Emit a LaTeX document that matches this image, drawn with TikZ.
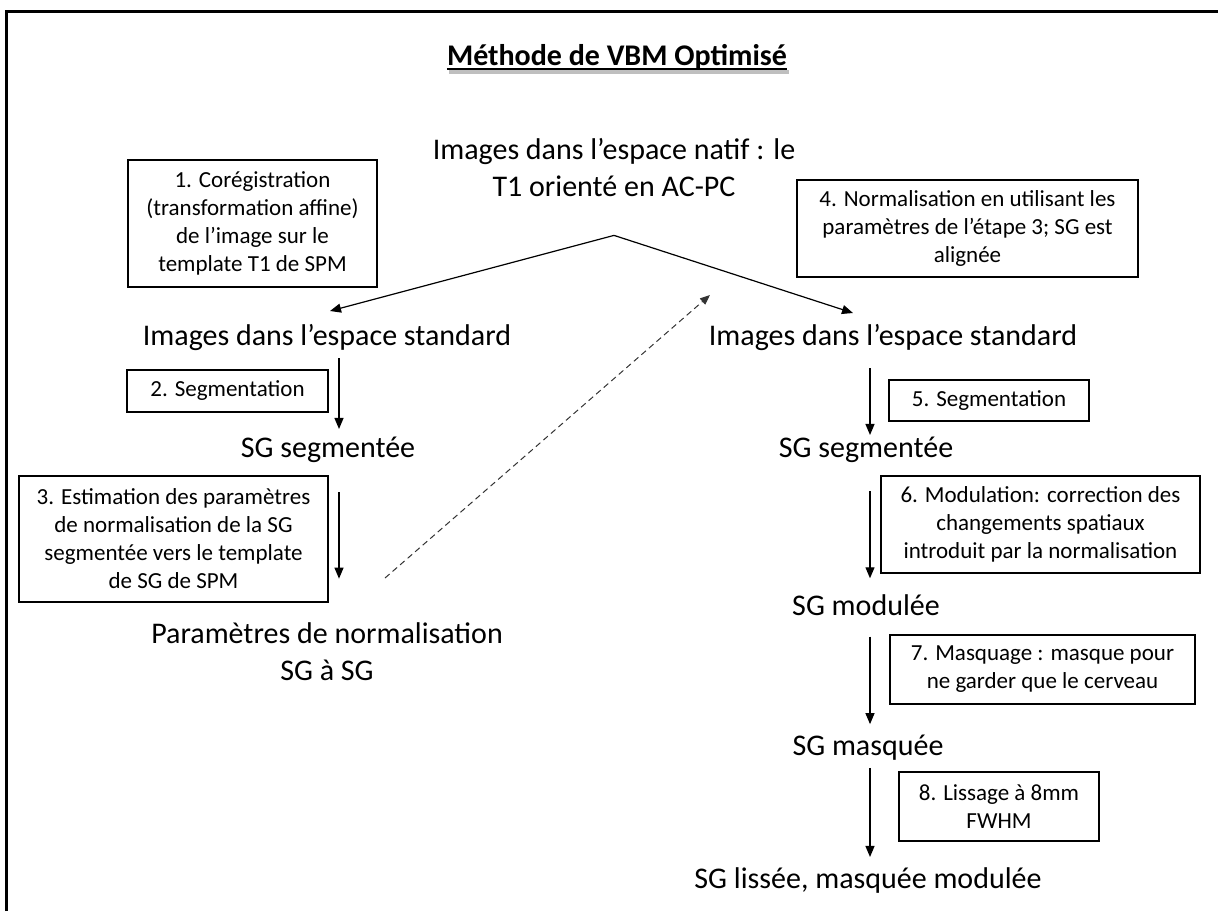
\documentclass[tikz,border=0pt]{standalone}
\usepackage{fontspec}
\setmainfont{Carlito}
\usetikzlibrary{arrows.meta}

\begin{document}
\begin{tikzpicture}[
  x=1pt, y=-1pt,
  result/.style={
    align=center,
    inner sep=0pt,
    font=\fontsize{30}{37}\selectfont
  },
  titletext/.style={
    result,
    font=\bfseries\fontsize{30}{37}\selectfont
  },
  stepbox/.style={
    draw,
    line width=1.3pt,
    align=center,
    inner sep=0pt,
    font=\fontsize{23}{28}\selectfont
  },
  arr/.style={
    -{Triangle[length=11pt,width=9pt]},
    line width=1.2pt
  },
  dasharr/.style={
    -{Triangle[length=10pt,width=8pt]},
    line width=1pt,
    dash pattern=on 6pt off 4pt,
    draw=black!80
  }
]
\useasboundingbox (0,0) rectangle (1218,911);

% Frame
\draw[line width=3pt] (6,911) -- (6,11) -- (1218,11);

% Title, underlined, with a soft shadow under the rule
\node[titletext] (title) at (617,57) {Méthode de VBM Optimisé};
\draw[line width=4pt, black!25]
  ([xshift=2pt,yshift=-7pt]title.base west) -- ([xshift=2pt,yshift=-7pt]title.base east);
\draw[line width=2.5pt]
  ([yshift=-4pt]title.base west) -- ([yshift=-4pt]title.base east);

% Native space
\node[result] (native) at (614,168)
  {Images dans l’espace natif : le\\T1 orienté en AC-PC};
\coordinate (apex) at ([yshift=-38pt]native.south);

% Left branch
\node[stepbox, minimum width=249pt, minimum height=127pt] (coreg)
  at (252.5,223.5)
  {1. Corégistration\\(transformation affine)\\de l’image sur le\\template T1 de SPM};
\node[result] (stdL) at (327,337) {Images dans l’espace standard};
\node[stepbox, minimum width=201pt, minimum height=42pt] (segstepL)
  at (227.5,391) {2. Segmentation};
\node[result] (segL) at (328,450) {SG segmentée};
\node[stepbox, minimum width=309pt, minimum height=126pt] (estim)
  at (173.5,539)
  {3. Estimation des paramètres\\de normalisation de la SG\\segmentée vers le template\\de SG de SPM};
\node[result] (paramL) at (327,652) {Paramètres de normalisation\\SG à SG};

% Right branch
\node[stepbox, minimum width=341pt, minimum height=97pt] (norm)
  at (967.5,228.5)
  {4. Normalisation en utilisant les\\paramètres de l’étape 3; SG est\\alignée};
\node[result] (stdR) at (893,337) {Images dans l’espace standard};
\node[stepbox, minimum width=200pt, minimum height=41pt] (segstepR)
  at (989,400.5) {5. Segmentation};
\node[result] (segR) at (866,450) {SG segmentée};
\node[stepbox, minimum width=319pt, minimum height=97pt] (modul)
  at (1040.5,524.5)
  {6. Modulation: correction des\\changements spatiaux\\introduit par la normalisation};
\node[result] (modR) at (866,605) {SG modulée};
\node[stepbox, minimum width=305pt, minimum height=69pt] (masq)
  at (1042.5,669.5)
  {7. Masquage : masque pour\\ne garder que le cerveau};
\node[result] (masqR) at (868,748) {SG masquée};
\node[stepbox, minimum width=200pt, minimum height=69pt] (liss)
  at (999,806.5)
  {8. Lissage à 8mm\\FWHM};
\node[result] (lissR) at (868,880) {SG lissée, masquée modulée};

% Fork from the native space
\coordinate (forkL) at (330,311);
\coordinate (forkR) at (853,313);
\draw[arr] (apex) -- (forkL);
\draw[arr] (apex) -- (forkR);

% Columns of arrows
\coordinate (colL) at (339,0);
\coordinate (colR) at (870,0);
\draw[arr, shorten <=8pt, shorten >=8pt] (stdL.south -| colL) -- (segL.north -| colL);
\draw[arr, shorten <=17pt, shorten >=24pt] (estim.north -| colL) -- (estim.south -| colL);

\draw[arr, shorten <=18pt, shorten >=2pt] (stdR.south -| colR) -- (segR.north -| colR);
\draw[arr, shorten <=28pt, shorten >=16pt] (segR.south -| colR) -- (modR.north -| colR);
\draw[arr, shorten <=21pt, shorten >=11pt] (modR.south -| colR) -- (masqR.north -| colR);
\draw[arr, shorten <=7pt, shorten >=10pt] (masqR.south -| colR) -- (lissR.north -| colR);

% Parameters fed back to the right branch
\coordinate (dashS) at (385,578);
\coordinate (dashE) at (710,295);
\draw[dasharr] (dashS) -- (dashE);

\end{tikzpicture}
\end{document}
